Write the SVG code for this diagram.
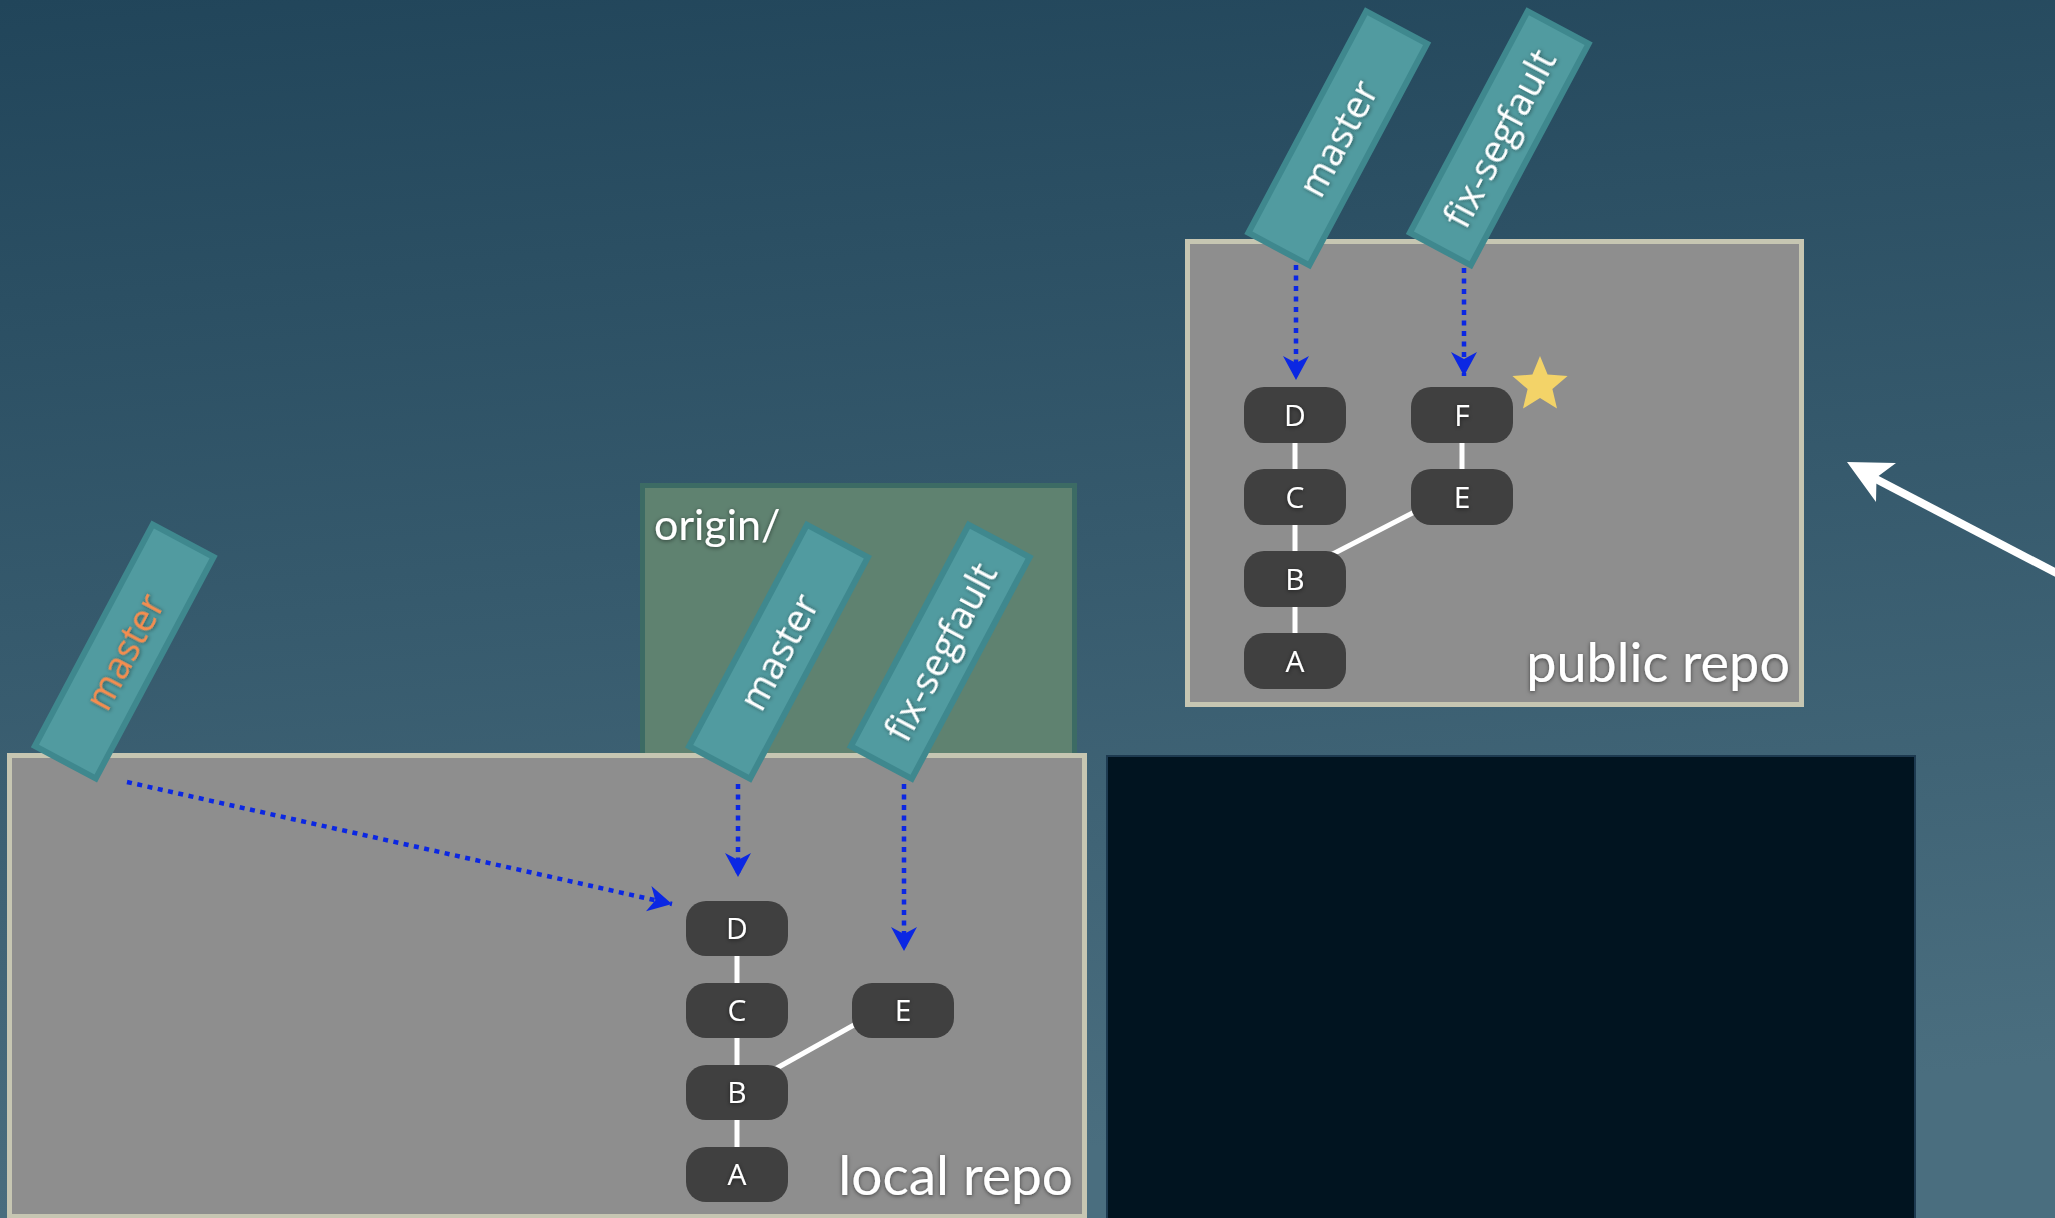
<svg xmlns="http://www.w3.org/2000/svg" width="2055" height="1218" viewBox="0 0 2055 1218">
<defs>
<linearGradient id="bg" x1="0" y1="0" x2="0.15" y2="1">
<stop offset="0" stop-color="#21455a"/>
<stop offset="1" stop-color="#4a6e7f"/>
</linearGradient>
<filter id="ts" x="-20%" y="-40%" width="140%" height="180%">
<feDropShadow dx="0" dy="1" stdDeviation="2" flood-color="#000" flood-opacity="0.55"/>
</filter>
<marker id="bh" markerUnits="userSpaceOnUse" viewBox="0 0 24 26" refX="24" refY="13" markerWidth="24" markerHeight="26" orient="auto">
<path d="M0,0 L24,13 L0,26 L7,13 Z" fill="#0b27e3"/>
</marker>
<style>
.repo{fill:#8e8e8e;stroke:#c6c6b2;stroke-width:5}
.tag{fill:#519ba0;stroke:#3f888e;stroke-width:6}
.tagt{font-family:"Open Sans","DejaVu Sans",sans-serif;font-size:38px;fill:#ffffff;text-anchor:middle}
.node rect{fill:#404040}
.node text{font-family:"Open Sans","DejaVu Sans",sans-serif;font-size:30px;fill:#ffffff;text-anchor:middle}
.edge{stroke:#ffffff;stroke-width:5;fill:none}
.dot{stroke:#0b27e3;stroke-width:4.5;stroke-dasharray:5 5.5;fill:none;marker-end:url(#bh)}
.lbl{font-family:Lato,"Liberation Sans",sans-serif;fill:#ffffff}
</style>
</defs>
<rect x="0" y="0" width="2055" height="1218" fill="url(#bg)"/>

<g id="origin-box">
<rect x="642.5" y="485.5" width="432" height="300" fill="#5f8270" stroke="#3c6b64" stroke-width="5"/>
<text class="lbl" x="654" y="540" font-size="43" filter="url(#ts)">origin/</text>
</g>

<g id="local-repo">
<rect class="repo" x="9.5" y="755.5" width="1075" height="461"/>
<text class="lbl" x="1073" y="1195" font-size="55" text-anchor="end" filter="url(#ts)">local repo</text>
</g>

<g id="public-repo">
<rect class="repo" x="1187.5" y="241.5" width="614" height="463"/>
<text class="lbl" x="1790" y="682" font-size="54" text-anchor="end" filter="url(#ts)">public repo</text>
</g>

<g id="terminal">
<rect x="1107" y="756" width="808" height="470" fill="#011420" stroke="#1d3a50" stroke-width="2"/>
</g>

<g id="connectors">
<line class="edge" x1="737" y1="950" x2="737" y2="1180"/>
<line class="edge" x1="768" y1="1073" x2="870" y2="1016"/>
<line class="edge" x1="1295" y1="420" x2="1295" y2="655"/>
<line class="edge" x1="1462" y1="420" x2="1462" y2="500"/>
<line class="edge" x1="1325" y1="558" x2="1430" y2="504"/>
<line class="dot" x1="127" y1="782" x2="672" y2="904"/>
<line class="dot" x1="738" y1="784" x2="738" y2="877"/>
<line class="dot" x1="904" y1="784" x2="904" y2="951"/>
<line class="dot" x1="1296" y1="265" x2="1296" y2="380"/>
<line class="dot" x1="1464" y1="268" x2="1464" y2="376"/>
</g>

<g id="local-D" class="node"><rect x="686" y="901" width="102" height="55" rx="20"/><text x="737" y="939" filter="url(#ts)">D</text></g>
<g id="local-C" class="node"><rect x="686" y="983" width="102" height="55" rx="20"/><text x="737" y="1021" filter="url(#ts)">C</text></g>
<g id="local-B" class="node"><rect x="686" y="1065" width="102" height="55" rx="20"/><text x="737" y="1103" filter="url(#ts)">B</text></g>
<g id="local-A" class="node"><rect x="686" y="1147" width="102" height="55" rx="20"/><text x="737" y="1185" filter="url(#ts)">A</text></g>
<g id="local-E" class="node"><rect x="852" y="983" width="102" height="55" rx="20"/><text x="903" y="1021" filter="url(#ts)">E</text></g>

<g id="public-D" class="node"><rect x="1244" y="387" width="102" height="56" rx="20"/><text x="1295" y="425.5" filter="url(#ts)">D</text></g>
<g id="public-C" class="node"><rect x="1244" y="469" width="102" height="56" rx="20"/><text x="1295" y="507.5" filter="url(#ts)">C</text></g>
<g id="public-B" class="node"><rect x="1244" y="551" width="102" height="56" rx="20"/><text x="1295" y="589.5" filter="url(#ts)">B</text></g>
<g id="public-A" class="node"><rect x="1244" y="633" width="102" height="56" rx="20"/><text x="1295" y="671.5" filter="url(#ts)">A</text></g>
<g id="public-F" class="node"><rect x="1411" y="387" width="102" height="56" rx="20"/><text x="1462" y="425.5" filter="url(#ts)">F</text></g>
<g id="public-E" class="node"><rect x="1411" y="469" width="102" height="56" rx="20"/><text x="1462" y="507.5" filter="url(#ts)">E</text></g>

<g id="star">
<polygon points="1540,356 1547.6,374.5 1567.6,376 1552.4,389 1557,408.5 1540,398 1523,408.5 1527.6,389 1512.4,376 1532.4,374.5" fill="#f3d368"/>
</g>

<g id="tag-local-master">
<rect class="tag" x="-34.5" y="-125.5" width="69" height="251" transform="translate(124.25,651.5) rotate(28)"/>
<text class="tagt" y="14" transform="translate(124.25,651.5) rotate(-62)" style="fill:#f58d4f" filter="url(#ts)">master</text>
</g>
<g id="tag-origin-master">
<rect class="tag" x="-34.5" y="-125.5" width="69" height="251" transform="translate(778.5,651.75) rotate(28)"/>
<text class="tagt" y="14" transform="translate(778.5,651.75) rotate(-62)" filter="url(#ts)">master</text>
</g>
<g id="tag-origin-fix">
<rect class="tag" x="-34.5" y="-125.5" width="69" height="251" transform="translate(940.25,651.75) rotate(28)"/>
<text class="tagt" y="14" transform="translate(940.25,651.75) rotate(-62)" filter="url(#ts)">fix-segfault</text>
</g>
<g id="tag-public-master">
<rect class="tag" x="-34.5" y="-125.5" width="69" height="251" transform="translate(1337.75,138.25) rotate(28)"/>
<text class="tagt" y="14" transform="translate(1337.75,138.25) rotate(-62)" filter="url(#ts)">master</text>
</g>
<g id="tag-public-fix">
<rect class="tag" x="-34.5" y="-125.5" width="69" height="251" transform="translate(1499.25,138.25) rotate(28)"/>
<text class="tagt" y="14" transform="translate(1499.25,138.25) rotate(-62)" filter="url(#ts)">fix-segfault</text>
</g>

<g id="push-arrow">
<line x1="2062" y1="576" x2="1874" y2="478" stroke="#ffffff" stroke-width="8"/>
<polygon points="1847,462 1896,463 1876.5,477.5 1876,502" fill="#ffffff"/>
</g>
</svg>
